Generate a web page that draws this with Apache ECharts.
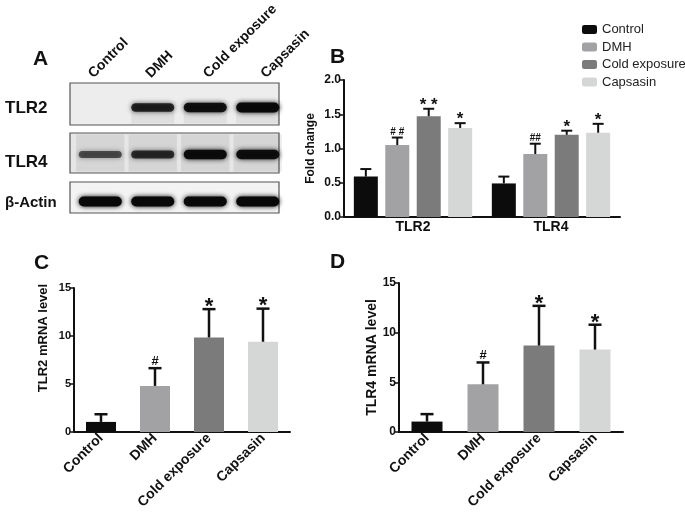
<!DOCTYPE html>
<html>
<head>
<meta charset="utf-8">
<title>TLR2 / TLR4 expression</title>
<script src="https://cdn.jsdelivr.net/npm/echarts@6/dist/echarts.min.js"></script>
<style>
  html, body { margin: 0; padding: 0; background: #fff; }
  #chart { width: 685px; height: 516px; }
</style>
</head>
<body>
<div id="chart"></div>
<script>
// groups, shared by every panel
const groups = ['Control', 'DMH', 'Cold exposure', 'Capsasin']
const groupColors = ['#0c0c0c', '#a2a2a5', '#7b7b7b', '#d5d7d7']

// A: western blot, band strength per lane (0 = no band)
const blotRows = ['TLR2', 'TLR4', 'β-Actin']
const blotTLR2 = [0, 0.78, 0.9, 0.97]
const blotTLR4 = [0.5, 0.7, 0.95, 0.92]
const blotActin = [1, 1, 0.97, 1]

// B: protein fold change, one array per group (TLR2, TLR4)
const proteins = ['TLR2', 'TLR4']
const foldMean = [[0.59, 0.49], [1.05, 0.92], [1.47, 1.20], [1.30, 1.23]]
const foldSd = [[0.11, 0.10], [0.11, 0.15], [0.11, 0.06], [0.07, 0.13]]
const foldSig = [['', ''], ['# #', '##'], ['* *', '*'], ['*', '*']]

// C: TLR2 mRNA
const tlr2Mrna = [1.05, 4.8, 9.85, 9.4]
const tlr2Sd = [0.8, 1.85, 2.95, 3.45]
const tlr2Sig = ['', '#', '*', '*']

// D: TLR4 mRNA
const tlr4Mrna = [1.05, 4.8, 8.7, 8.3]
const tlr4Sd = [0.75, 2.2, 4.0, 2.5]
const tlr4Sig = ['', '#', '*', '*']

const FONT = '"Liberation Sans", Arial, sans-serif'
const NARROW = '"Liberation Sans Narrow", "Liberation Sans", Arial, sans-serif'
const INK = '#111'

const chart = echarts.init(document.getElementById('chart'))

// blot bands
const blotData = []
;[blotTLR2, blotTLR4, blotActin].forEach((row, r) => {
  row.forEach((v, l) => blotData.push([l, r, v]))
})

function bandItem(params, api) {
  const lane = api.value(0)
  const row = api.value(1)
  const v = api.value(2)
  const c = api.coord([lane, row])
  const bw = api.size([1, 1])[0]
  const w = bw * 0.82
  const h = 4 + 6 * v
  const a = (0.2 + 0.8 * v).toFixed(2)
  const children = []
  if (row === 1) {
    // grey lane haze in the TLR4 strip
    children.push({
      type: 'rect',
      shape: { x: c[0] - bw * 0.46, y: c[1] - 20, width: bw * 0.92, height: 37 },
      style: { fill: 'rgba(0,0,0,0.07)' }
    })
  }
  if (row === 0 && v > 0) {
    children.push({
      type: 'rect',
      shape: { x: c[0] - w / 2, y: c[1] + 2, width: w, height: 14 },
      style: { fill: 'rgba(0,0,0,0.06)', shadowBlur: 4, shadowColor: 'rgba(0,0,0,0.06)' }
    })
  }
  if (v > 0) {
    children.push({
      type: 'rect',
      shape: { x: c[0] - w / 2, y: c[1] - h / 2, width: w, height: h, r: h / 2 },
      style: { fill: 'rgba(8,8,8,' + a + ')', shadowBlur: 5, shadowColor: 'rgba(8,8,8,' + a + ')' }
    })
  }
  return { type: 'group', children }
}

// one-sided error bar with cap and significance mark
function errorBars(sig, offset, capW, lw, starFont, hashFont, gap) {
  return function (params, api) {
    const cat = api.value(0)
    const mean = api.value(1)
    const sd = api.value(2)
    const p0 = api.coord([cat, mean])
    const p1 = api.coord([cat, mean + sd])
    const x = p0[0] + offset
    const s = sig[cat]
    const star = s.indexOf('*') >= 0
    const fs = star ? starFont : hashFont
    const ty = star ? p1[1] - gap + 0.08 * fs : p1[1] - 2 - 0.35 * fs
    return {
      type: 'group',
      children: [
        { type: 'line', shape: { x1: x, y1: p0[1], x2: x, y2: p1[1] }, style: { stroke: INK, lineWidth: lw } },
        { type: 'line', shape: { x1: x - capW / 2, y1: p1[1], x2: x + capW / 2, y2: p1[1] }, style: { stroke: INK, lineWidth: lw } },
        {
          type: 'text',
          x: x,
          y: ty,
          style: { text: s, fill: INK, font: 'bold ' + fs + 'px ' + FONT, align: 'center', verticalAlign: 'middle' }
        }
      ]
    }
  }
}

const axisLine = { show: true, lineStyle: { color: INK, width: 2 } }
function yTick(len) {
  return { show: true, length: len, lineStyle: { color: INK, width: 1.5 } }
}
function catAxis(grid) {
  return {
    gridIndex: grid,
    type: 'category',
    data: groups,
    axisLine: axisLine,
    axisTick: { alignWithLabel: true, length: 5, lineStyle: { color: INK, width: 2 } },
    axisLabel: { interval: 0, rotate: 45, margin: 4, color: INK, fontWeight: 'bold', fontSize: 14, fontFamily: FONT }
  }
}
function mrnaAxis(grid, name, nameGap, nameSize, family, shift, tickSize) {
  return {
    gridIndex: grid,
    type: 'value',
    min: 0,
    max: 15,
    interval: 5,
    name: name,
    nameLocation: 'middle',
    nameGap: nameGap,
    nameTextStyle: { color: INK, fontWeight: 'bold', fontSize: nameSize, fontFamily: family, padding: shift },
    axisLine: axisLine,
    axisTick: yTick(4),
    axisLabel: { color: INK, fontWeight: 'bold', fontSize: tickSize, fontFamily: FONT, margin: 3 },
    splitLine: { show: false }
  }
}

// B bars: fixed width so the error bars can find each bar
const barW = 24
const barGapPct = 31
const pitch = barW * (1 + barGapPct / 100)

const series = [
  {
    type: 'custom',
    xAxisIndex: 0,
    yAxisIndex: 0,
    renderItem: bandItem,
    data: blotData,
    encode: { x: 0, y: 1 },
    z: 3
  }
]

groups.forEach((g, gi) => {
  series.push({
    name: g,
    type: 'bar',
    xAxisIndex: 1,
    yAxisIndex: 1,
    barWidth: barW,
    barGap: barGapPct + '%',
    itemStyle: { color: groupColors[gi] },
    data: foldMean[gi]
  })
})
groups.forEach((g, gi) => {
  series.push({
    type: 'custom',
    xAxisIndex: 1,
    yAxisIndex: 1,
    clip: false,
    z: 4,
    renderItem: errorBars(foldSig[gi], (gi - 1.5) * pitch, 11, 2, 17, 10, 5),
    encode: { x: 0, y: 1 },
    data: proteins.map((p, k) => [k, foldMean[gi][k], foldSd[gi][k]])
  })
})

series.push(
  {
    name: 'TLR2 mRNA',
    type: 'bar',
    xAxisIndex: 2,
    yAxisIndex: 2,
    barWidth: 30,
    data: tlr2Mrna.map((v, i) => ({ value: v, itemStyle: { color: groupColors[i] } }))
  },
  {
    type: 'custom',
    xAxisIndex: 2,
    yAxisIndex: 2,
    clip: false,
    z: 4,
    renderItem: errorBars(tlr2Sig, 0, 13, 2.5, 22, 13, 4),
    encode: { x: 0, y: 1 },
    data: tlr2Mrna.map((v, i) => [i, v, tlr2Sd[i]])
  },
  {
    name: 'TLR4 mRNA',
    type: 'bar',
    xAxisIndex: 3,
    yAxisIndex: 3,
    barWidth: 31,
    data: tlr4Mrna.map((v, i) => ({ value: v, itemStyle: { color: groupColors[i] } }))
  },
  {
    type: 'custom',
    xAxisIndex: 3,
    yAxisIndex: 3,
    clip: false,
    z: 4,
    renderItem: errorBars(tlr4Sig, 0, 13, 2.5, 22, 13, 4),
    encode: { x: 0, y: 1 },
    data: tlr4Mrna.map((v, i) => [i, v, tlr4Sd[i]])
  }
)

const panelFont = 'bold 21px ' + FONT
const rowFont = 'bold 17px ' + FONT

const option = {
  animation: false,
  backgroundColor: '#fff',
  textStyle: { fontFamily: FONT },
  grid: [
    { left: 74, top: 84, width: 210, height: 141 },
    { left: 344, top: 80, width: 276, height: 137 },
    { left: 74, top: 288, width: 216, height: 144 },
    { left: 399, top: 283, width: 224, height: 149 },
    { left: 62, top: 76, width: 230, height: 10 }
  ],
  legend: {
    orient: 'vertical',
    left: 582,
    top: 23,
    padding: 0,
    itemWidth: 15,
    itemHeight: 9,
    itemGap: 4.5,
    icon: 'roundRect',
    data: groups,
    textStyle: { fontSize: 13, color: '#222', fontFamily: FONT }
  },
  xAxis: [
    { gridIndex: 0, type: 'category', data: groups, show: false },
    {
      gridIndex: 1,
      type: 'category',
      data: proteins,
      axisLine: axisLine,
      axisTick: { alignWithLabel: true, length: 3, lineStyle: { color: INK, width: 1.5 } },
      axisLabel: { color: INK, fontWeight: 'bold', fontSize: 14, fontFamily: NARROW, margin: 3 }
    },
    catAxis(2),
    catAxis(3),
    {
      gridIndex: 4,
      type: 'category',
      data: groups,
      position: 'top',
      axisLine: { show: false },
      axisTick: { show: false },
      axisLabel: { interval: 0, rotate: 45, margin: 2, color: INK, fontWeight: 'bold', fontSize: 14, fontFamily: FONT }
    }
  ],
  yAxis: [
    { gridIndex: 0, type: 'category', data: blotRows, inverse: true, show: false },
    {
      gridIndex: 1,
      type: 'value',
      min: 0,
      max: 2,
      interval: 0.5,
      name: 'Fold change',
      nameLocation: 'middle',
      nameGap: 27,
      nameTextStyle: { color: INK, fontWeight: 'bold', fontSize: 12, fontFamily: NARROW },
      axisLine: axisLine,
      axisTick: yTick(4),
      axisLabel: { color: INK, fontWeight: 'bold', fontSize: 12, fontFamily: FONT, margin: 3, formatter: (v) => v.toFixed(1) },
      splitLine: { show: false }
    },
    mrnaAxis(2, 'TLR2 mRNA level', 24, 13, NARROW, [0, 0, 0, 44], 11),
    mrnaAxis(3, 'TLR4 mRNA level', 13, 14, FONT, 0, 12),
    { gridIndex: 4, type: 'value', show: false }
  ],
  graphic: [
    // blot strips
    { type: 'rect', z: 0, shape: { x: 70, y: 83, width: 209, height: 42 }, style: { fill: '#ededed', stroke: '#555', lineWidth: 1.2 } },
    { type: 'rect', z: 0, shape: { x: 70, y: 133, width: 209, height: 40 }, style: { fill: '#e6e6e6', stroke: '#555', lineWidth: 1.2 } },
    { type: 'rect', z: 0, shape: { x: 70, y: 182, width: 209, height: 31 }, style: { fill: '#f3f3f3', stroke: '#555', lineWidth: 1.2 } },
    // row labels
    { type: 'text', x: 5, y: 108, style: { text: blotRows[0], font: rowFont, fill: INK, verticalAlign: 'middle' } },
    { type: 'text', x: 5, y: 162, style: { text: blotRows[1], font: rowFont, fill: INK, verticalAlign: 'middle' } },
    { type: 'text', x: 5, y: 203, style: { text: blotRows[2], font: 'bold 15px ' + FONT, fill: INK, verticalAlign: 'middle' } },
    // panel letters
    { type: 'text', x: 33, y: 59, style: { text: 'A', font: panelFont, fill: INK, verticalAlign: 'middle' } },
    { type: 'text', x: 330, y: 57, style: { text: 'B', font: panelFont, fill: INK, verticalAlign: 'middle' } },
    { type: 'text', x: 34, y: 263, style: { text: 'C', font: panelFont, fill: INK, verticalAlign: 'middle' } },
    { type: 'text', x: 330, y: 262, style: { text: 'D', font: panelFont, fill: INK, verticalAlign: 'middle' } }
  ],
  series: series
}

chart.setOption(option)
</script>
</body>
</html>
